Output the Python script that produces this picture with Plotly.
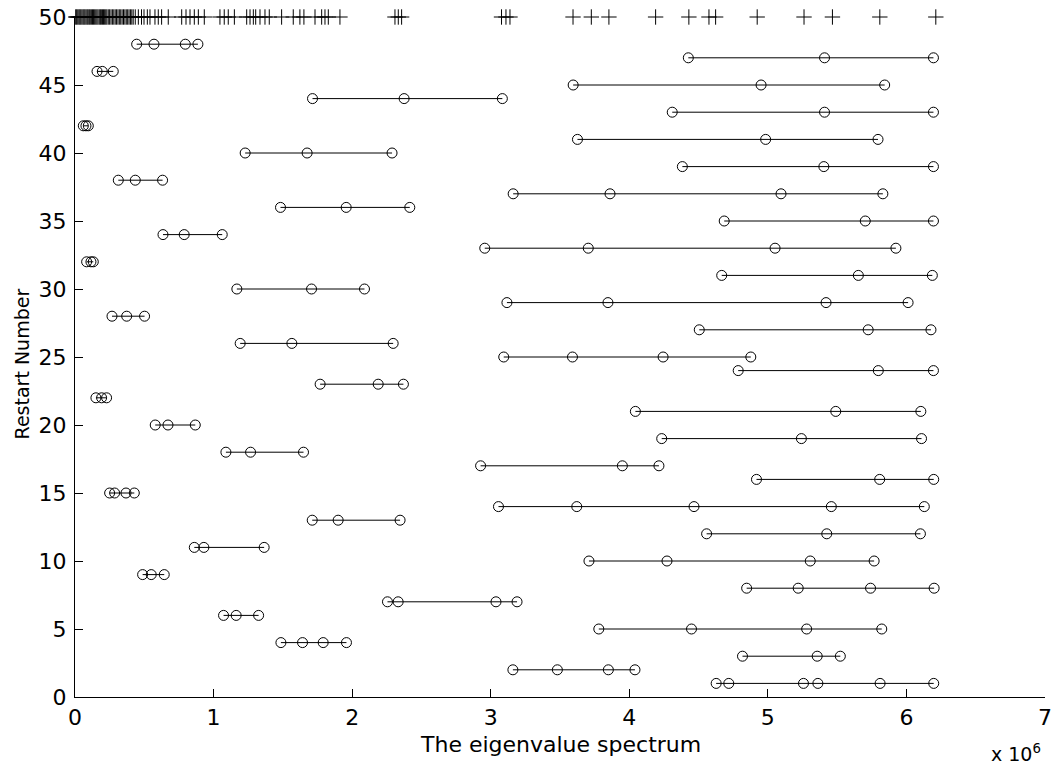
import plotly.graph_objects as go

# Ritz values (x 10^6) for each restart number
restart_numbers = list(range(1, 49))
row_values = [
    [4.627, 4.718, 5.257, 5.361, 5.810, 6.197],   # 1
    [3.160, 3.481, 3.849, 4.041],                 # 2
    [4.817, 5.356, 5.523],                        # 3
    [1.486, 1.642, 1.791, 1.959],                 # 4
    [3.780, 4.449, 5.280, 5.822],                 # 5
    [1.072, 1.163, 1.325],                        # 6
    [2.255, 2.332, 3.038, 3.190],                 # 7
    [4.847, 5.219, 5.741, 6.200],                 # 8
    [0.488, 0.550, 0.644],                        # 9
    [3.709, 4.272, 5.306, 5.767],                 # 10
    [0.861, 0.930, 1.365],                        # 11
    [4.558, 5.425, 6.101],                        # 12
    [1.712, 1.899, 2.346],                        # 13
    [3.056, 3.621, 4.467, 5.458, 6.129],          # 14
    [0.250, 0.286, 0.368, 0.428],                 # 15
    [4.918, 5.807, 6.197],                        # 16
    [2.927, 3.950, 4.214],                        # 17
    [1.089, 1.267, 1.649],                        # 18
    [4.234, 5.242, 6.109],                        # 19
    [0.579, 0.671, 0.868],                        # 20
    [4.044, 5.490, 6.104],                        # 21
    [0.151, 0.192, 0.228],                        # 22
    [1.769, 2.188, 2.370],                        # 23
    [4.786, 5.797, 6.195],                        # 24
    [3.094, 3.590, 4.244, 4.877],                 # 25
    [1.192, 1.565, 2.296],                        # 26
    [4.505, 5.724, 6.177],                        # 27
    [0.267, 0.373, 0.502],                        # 28
    [3.117, 3.846, 5.420, 6.012],                 # 29
    [1.168, 1.707, 2.089],                        # 30
    [4.667, 5.653, 6.187],                        # 31
    [0.084, 0.115, 0.132],                        # 32
    [2.957, 3.704, 5.052, 5.924],                 # 33
    [0.635, 0.788, 1.0625],                       # 34
    [4.685, 5.703, 6.195],                        # 35
    [1.483, 1.957, 2.416],                        # 36
    [3.162, 3.861, 5.095, 5.830],                 # 37
    [0.3125, 0.435, 0.632],                       # 38
    [4.383, 5.404, 6.195],                        # 39
    [1.228, 1.675, 2.288],                        # 40
    [3.626, 4.984, 5.795],                        # 41
    [0.060, 0.079, 0.096],                        # 42
    [4.310, 5.409, 6.195],                        # 43
    [1.714, 2.375, 3.084],                        # 44
    [3.595, 4.951, 5.843],                        # 45
    [0.159, 0.197, 0.276],                        # 46
    [4.426, 5.409, 6.195],                        # 47
    [0.445, 0.570, 0.796, 0.887],                 # 48
]

# Eigenvalue spectrum (x 10^6), drawn as '+' at y = 50
spectrum_y = 50
spectrum = [
    0.005, 0.012, 0.020, 0.028, 0.035, 0.042, 0.050, 0.058, 0.065, 0.072,
    0.080, 0.088, 0.095, 0.103, 0.110, 0.118, 0.126, 0.134, 0.142, 0.150,
    0.158, 0.166, 0.175, 0.183, 0.190, 0.198, 0.206, 0.214, 0.222, 0.230,
    0.240, 0.250, 0.260, 0.270, 0.280, 0.290, 0.300, 0.310, 0.320, 0.330,
    0.340, 0.350, 0.360, 0.370, 0.380, 0.390, 0.400, 0.410, 0.420, 0.435,
    0.457, 0.480, 0.498, 0.522, 0.541, 0.577, 0.601, 0.625, 0.673,
    0.770, 0.801, 0.830, 0.861, 0.890, 0.933,
    1.046, 1.077, 1.106, 1.150,
    1.239, 1.263, 1.287, 1.304, 1.335, 1.371, 1.402,
    1.491, 1.575, 1.623, 1.652, 1.732, 1.780, 1.804, 1.828, 1.912,
    2.309, 2.333, 2.357,
    3.078, 3.110, 3.139,
    3.594, 3.726, 3.853, 4.190, 4.430, 4.575, 4.623, 4.923, 5.261, 5.466,
    5.808, 6.212,
]

x_ticks = [0, 1, 2, 3, 4, 5, 6, 7]
y_ticks = [0, 5, 10, 15, 20, 25, 30, 35, 40, 45, 50]

FONT = "DejaVu Sans, Liberation Sans, Arial, sans-serif"
FS = 22

fig = go.Figure()

for r, vals in zip(restart_numbers, row_values):
    fig.add_trace(go.Scatter(
        x=vals, y=[r] * len(vals),
        mode="lines+markers",
        line=dict(color="black", width=1),
        marker=dict(symbol="circle-open", size=10, color="black",
                    line=dict(width=1, color="black")),
        showlegend=False, cliponaxis=False, hoverinfo="x+y",
    ))

fig.add_trace(go.Scatter(
    x=spectrum, y=[spectrum_y] * len(spectrum),
    mode="markers",
    marker=dict(symbol="cross-thin", size=11, color="black",
                line=dict(width=1, color="black")),
    showlegend=False, cliponaxis=False, hoverinfo="x",
))

fig.update_layout(
    width=1055, height=765,
    margin=dict(l=75, r=10, t=17, b=68, autoexpand=False),
    paper_bgcolor="white", plot_bgcolor="white",
    font=dict(family=FONT, size=FS, color="black"),
    xaxis=dict(
        range=[0, 7], tickvals=x_ticks, ticktext=[str(t) for t in x_ticks],
        ticks="inside", ticklen=8, tickcolor="black", tickwidth=1,
        showline=True, linecolor="black", linewidth=1,
        showgrid=False, zeroline=False, fixedrange=True,
        tickfont=dict(size=FS), ticklabelstandoff=1,
    ),
    yaxis=dict(
        range=[0, 50], tickvals=y_ticks, ticktext=[str(t) for t in y_ticks],
        ticks="inside", ticklen=8, tickcolor="black", tickwidth=1,
        showline=True, linecolor="black", linewidth=1,
        showgrid=False, zeroline=False, fixedrange=True,
        tickfont=dict(size=FS), ticklabelstandoff=3,
    ),
    annotations=[
        dict(text="The eigenvalue spectrum", xref="paper", yref="paper",
             x=0.5, y=-0.070, xanchor="center", yanchor="middle",
             showarrow=False, font=dict(size=FS)),
        dict(text="Restart Number", xref="paper", yref="paper",
             x=-0.055, y=0.49, xanchor="center", yanchor="middle",
             textangle=-90, showarrow=False, font=dict(size=19)),
        dict(text="x 10<sup>6</sup>", xref="paper", yref="paper",
             x=0.998, y=-0.082, xanchor="right", yanchor="middle",
             showarrow=False, font=dict(size=19)),
    ],
)

fig.write_html(
    "out.html",
    config={"displayModeBar": False},
    post_script="document.body.style.margin='0';document.body.style.overflow='hidden';",
)
